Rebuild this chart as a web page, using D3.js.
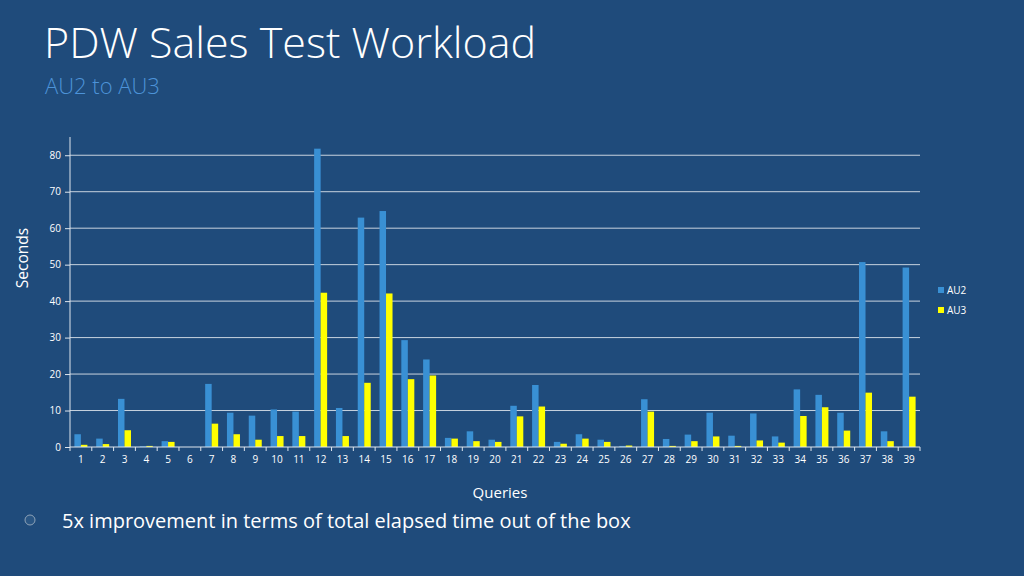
<!DOCTYPE html>
<html><head><meta charset="utf-8">
<script src="https://cdn.jsdelivr.net/npm/d3@7"></script>
<style>
html,body{margin:0;padding:0;background:#1f4b7b;}
svg{display:block;}
text{font-family:"Open Sans","Noto Sans",sans-serif;}
</style></head>
<body>
<svg id="c" width="1024" height="576"></svg>
<script>
const queries = d3.range(1,40).map(String);
const au2 = [3.5,2.3,13.2,0.2,1.6,0,17.3,9.4,8.6,10.3,9.7,81.8,10.7,62.9,64.7,29.3,24.0,2.5,4.3,2.0,11.3,17.0,1.4,3.5,2.0,0.3,13.1,2.2,3.4,9.4,3.1,9.2,2.9,15.8,14.3,9.4,50.7,4.3,49.2];
const au3 = [0.6,0.8,4.6,0.3,1.4,0,6.4,3.5,2.0,3.0,3.0,42.3,3.0,17.6,42.1,18.6,19.6,2.3,1.6,1.4,8.4,11.1,0.9,2.3,1.4,0.4,9.7,0.3,1.6,2.9,0.3,1.8,1.2,8.5,10.9,4.5,14.9,1.6,13.8];
const yTicks = [0,10,20,30,40,50,60,70,80];
const seriesNames = ["AU2","AU3"];
const colors = ["#3990d4","#ffff00"];

const svg = d3.select("#c");
const L=70, R=920, T=137, B=447;
const x = d3.scaleBand().domain(queries).range([L,R]);
const y = d3.scaleLinear().domain([0,85]).range([B,T]);

// title
svg.append("text").attr("x",44).attr("y",58).attr("fill","#fff").attr("font-size",43).attr("font-weight",300).text("PDW Sales Test Workload");
svg.append("text").attr("x",45).attr("y",94).attr("fill","#4d93d8").attr("font-size",22).attr("font-weight",300).text("AU2 to AU3");

// gridlines
svg.append("g").selectAll("line").data(yTicks.filter(d=>d>0)).join("line")
  .attr("x1",L).attr("x2",R).attr("y1",d=>y(d)).attr("y2",d=>y(d))
  .attr("stroke","#c8d3df").attr("stroke-width",1);

// bars
const bw = 6.5;
const data = queries.map((q,i)=>({q, vals:[au2[i],au3[i]]}));
const g = svg.append("g");
data.forEach(d=>{
  const cx = x(d.q)+x.bandwidth()/2;
  d.vals.forEach((v,j)=>{
    if(v<=0) return;
    g.append("rect").attr("x", cx - bw + j*bw).attr("width",bw)
     .attr("y",y(v)).attr("height",B-y(v)).attr("fill",colors[j]);
  });
});

// y axis
const ya = svg.append("g").attr("transform",`translate(${L},0)`)
  .call(d3.axisLeft(y).tickValues(yTicks).tickSize(5).tickPadding(4));
ya.select(".domain").attr("stroke","#dfe6ee").attr("d",`M0,${T}V${B}`);
ya.selectAll(".tick line").attr("stroke","#dfe6ee");
ya.selectAll(".tick text").attr("fill","#fff").attr("font-size",10).attr("font-family","'Open Sans',sans-serif");

// x axis
const xa = svg.append("g").attr("transform",`translate(0,${B})`)
  .call(d3.axisBottom(x).tickSize(0).tickPadding(9));
xa.select(".domain").attr("stroke","#dfe6ee").attr("d",`M${L},0H${R}`);
xa.selectAll(".tick text").attr("fill","#fff").attr("font-size",10).attr("font-family","'Open Sans',sans-serif");
xa.append("g").selectAll("line").data(queries.concat(["end"])).join("line")
  .attr("x1",(d,i)=>L+i*x.step()).attr("x2",(d,i)=>L+i*x.step())
  .attr("y1",0).attr("y2",4).attr("stroke","#dfe6ee");

// axis titles
svg.append("text").attr("transform","translate(28,258) rotate(-90)").attr("text-anchor","middle")
  .attr("fill","#fff").attr("font-size",15.5).text("Seconds");
svg.append("text").attr("x",500).attr("y",498).attr("text-anchor","middle")
  .attr("fill","#fff").attr("font-size",15).text("Queries");

// legend
const lg = svg.append("g");
seriesNames.forEach((s,i)=>{
  lg.append("rect").attr("x",938).attr("y",287+i*20).attr("width",6).attr("height",6).attr("fill",colors[i]);
  lg.append("text").attr("x",947).attr("y",294+i*20).attr("fill","#fff").attr("font-size",10).text(s);
});

// bullet
svg.append("circle").attr("cx",30).attr("cy",520).attr("r",5).attr("fill","#2a5684").attr("stroke","#8fa3b8").attr("stroke-width",1);
svg.append("text").attr("x",62).attr("y",528).attr("fill","#fff").attr("font-size",20).text("5x improvement in terms of total elapsed time out of the box");
</script>
</body></html>
